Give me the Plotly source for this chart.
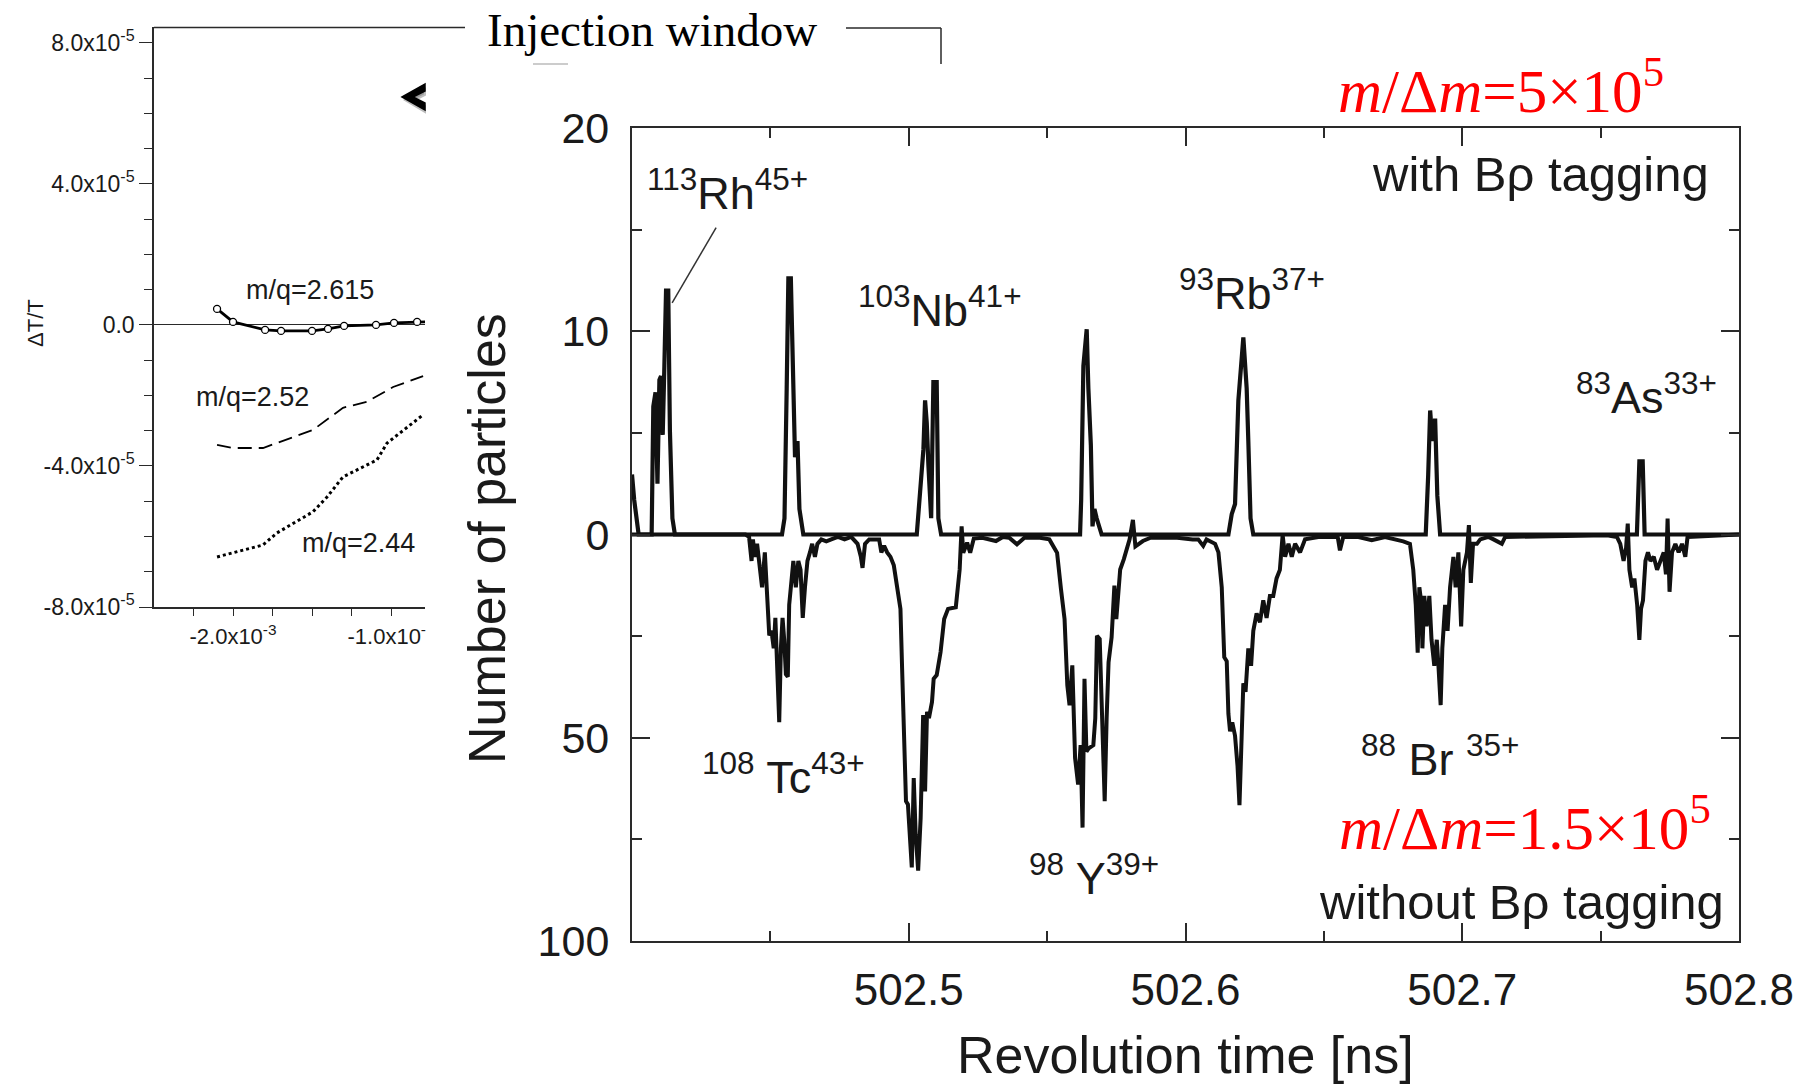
import plotly.graph_objects as go

W, H = 1818, 1084


def px(x):
    return x / W


def py(y):
    return 1 - y / H


# ---------------- left inset panel data (dT/T vs x) ----------------
mq2615_x = [-2.101e-3, -2.0e-3, -1.797e-3, -1.696e-3, -1.5e-3, -1.399e-3,
            -1.297e-3, -1.095e-3, -0.981e-3, -0.835e-3, -0.70e-3]
mq2615_y = [0.454e-5, 0.085e-5, -0.142e-5, -0.170e-5, -0.170e-5, -0.113e-5,
            -0.028e-5, 0.0, 0.057e-5, 0.085e-5, 0.10e-5]

mq252_x = [-2.101e-3, -2.0e-3, -1.81e-3, -1.62e-3, -1.494e-3, -1.304e-3,
           -1.152e-3, -0.987e-3, -0.797e-3]
mq252_y = [-3.40e-5, -3.49e-5, -3.49e-5, -3.18e-5, -2.98e-5, -2.35e-5,
           -2.18e-5, -1.76e-5, -1.45e-5]

mq244_x = [-2.101e-3, -1.81e-3, -1.722e-3, -1.494e-3, -1.405e-3, -1.304e-3,
           -1.089e-3, -1.025e-3, -0.797e-3]
mq244_y = [-6.58e-5, -6.24e-5, -5.90e-5, -5.30e-5, -4.88e-5, -4.31e-5,
           -3.83e-5, -3.35e-5, -2.55e-5]

inset_xticks = [-2.0e-3, -1.0e-3]
inset_xticklabels = ["-2.0x10<sup>-3</sup>", "-1.0x10<sup>-3</sup>"]
inset_yticks = [8e-5, 4e-5, 0.0, -4e-5, -8e-5]
inset_yticklabels = ["8.0x10<sup>-5</sup>", "4.0x10<sup>-5</sup>", "0.0",
                     "-4.0x10<sup>-5</sup>", "-8.0x10<sup>-5</sup>"]

# ---------------- main spectrum: with B-rho tagging (upwards) ----------------
t_with = [502.4000, 502.4008, 502.4024, 502.4071, 502.4077, 502.4085, 502.4092,
          502.4099, 502.4105, 502.4111, 502.4117, 502.4123, 502.4131, 502.4137,
          502.4146, 502.4155, 502.4542, 502.4551, 502.4559, 502.4565, 502.4574,
          502.4581, 502.4589, 502.4598, 502.4605, 502.4619, 502.5029, 502.5041,
          502.5053, 502.5059, 502.5065, 502.5071, 502.5081, 502.5089, 502.5101,
          502.5107, 502.5117, 502.5619, 502.5623, 502.5631, 502.5643, 502.5649,
          502.5658, 502.5664, 502.5671, 502.5679, 502.5697, 502.6155, 502.6167,
          502.6179, 502.6191, 502.6209, 502.6221, 502.6227, 502.6235, 502.6245,
          502.6868, 502.6877, 502.6884, 502.6892, 502.6902, 502.6910, 502.6920,
          502.7631, 502.7640, 502.7652, 502.7659, 502.8000]
n_with = [2.95, 1.7, 0, 0, 6.3, 7.0, 2.5,
          7.6, 7.8, 4.9, 8.3, 12.0, 12.0, 5.1,
          0.8, 0, 0, 0.8, 7.2, 12.6, 12.6,
          8.3, 3.8, 4.6, 1.25, 0, 0, 2.1,
          4.2, 6.6, 5.5, 3.4, 0.8, 7.5, 7.5,
          0.8, 0, 0, 1.7, 8.3, 10.1, 7.2,
          4.4, 0.4, 1.25, 0.8, 0, 0, 1.0,
          1.5, 6.6, 9.7, 7.2, 4.6, 0.8, 0,
          0, 2.95, 6.1, 4.6, 5.7, 1.9, 0,
          0, 3.6, 3.6, 0, 0]

# ---------------- main spectrum: without B-rho tagging (downwards) ----------------
t_without = [502.4000, 502.4410, 502.4423, 502.4432, 502.4437, 502.4444, 502.4452,
             502.4461, 502.4470, 502.4480, 502.4488, 502.4496, 502.4504, 502.4512,
             502.4518, 502.4524, 502.4532, 502.4538, 502.4544, 502.4550, 502.4556,
             502.4563, 502.4568, 502.4574, 502.4583, 502.4592, 502.4601, 502.4609,
             502.4617, 502.4625, 502.4634, 502.4643, 502.4651, 502.4661, 502.4670,
             502.4684, 502.4702, 502.4720, 502.4744, 502.4768, 502.4792, 502.4815,
             502.4827, 502.4833, 502.4842, 502.4857, 502.4875, 502.4893, 502.4901,
             502.4911, 502.4922, 502.4934, 502.4946, 502.4956, 502.4970, 502.4976,
             502.4983, 502.4990, 502.4997, 502.5004, 502.5011, 502.5018, 502.5025,
             502.5034, 502.5043, 502.5052, 502.5059, 502.5066, 502.5073, 502.5084,
             502.5090, 502.5101, 502.5115, 502.5128, 502.5142, 502.5170, 502.5184,
             502.5191, 502.5197, 502.5211, 502.5222, 502.5235, 502.5266, 502.5315,
             502.5340, 502.5363, 502.5391, 502.5418, 502.5474, 502.5508, 502.5536,
             502.5550, 502.5563, 502.5573, 502.5581, 502.5591, 502.5601, 502.5612,
             502.5621, 502.5628, 502.5635, 502.5642, 502.5650, 502.5667, 502.5674,
             502.5680, 502.5690, 502.5697, 502.5708, 502.5715, 502.5722, 502.5733,
             502.5743, 502.5750, 502.5764, 502.5777, 502.5798, 502.5810, 502.5819,
             502.5846, 502.5874, 502.5915, 502.5970, 502.6026, 502.6046, 502.6064,
             502.6076, 502.6107, 502.6119, 502.6131, 502.6140, 502.6149, 502.6155,
             502.6161, 502.6169, 502.6179, 502.6188, 502.6195, 502.6201, 502.6209,
             502.6217, 502.6227, 502.6237, 502.6245, 502.6257, 502.6269, 502.6281,
             502.6293, 502.6305, 502.6317, 502.6329, 502.6341, 502.6351, 502.6360,
             502.6372, 502.6384, 502.6396, 502.6414, 502.6432, 502.6480, 502.6550,
             502.6558, 502.6570, 502.6625, 502.6673, 502.6721, 502.6787, 502.6811,
             502.6823, 502.6832, 502.6839, 502.6845, 502.6853, 502.6856, 502.6863,
             502.6871, 502.6881, 502.6889, 502.6899, 502.6908, 502.6914, 502.6922,
             502.6928, 502.6938, 502.6947, 502.6956, 502.6968, 502.6976, 502.6986,
             502.6996, 502.7004, 502.7017, 502.7024, 502.7031, 502.7039, 502.7053,
             502.7065, 502.7095, 502.7113, 502.7143, 502.7155, 502.7390, 502.7523,
             502.7559, 502.7571, 502.7583, 502.7592, 502.7598, 502.7604, 502.7614,
             502.7622, 502.7632, 502.7640, 502.7646, 502.7653, 502.7662, 502.7671,
             502.7680, 502.7692, 502.7704, 502.7716, 502.7728, 502.7736, 502.7742,
             502.7749, 502.7758, 502.7770, 502.7782, 502.7794, 502.7806, 502.7814,
             502.8000]
n_without = [0, 0, 0.6, 6.5, 1.2, 5.5, 2.3,
             8.7, 13.0, 4.4, 17.3, 24.8, 23.7, 28.0,
             20.5, 33.4, 46.2, 28.0, 20.5, 25.9, 34.4,
             35.0, 17.3, 13.0, 6.5, 13.0, 6.5, 8.7,
             20.5, 13.0, 6.5, 4.4, 2.3, 5.5, 2.3,
             1.2, 1.7, 1.2, 0.6, 1.2, 0.6, 2.3,
             5.5, 8.2, 2.3, 1.2, 1.2, 1.2, 4.4,
             2.8, 4.4, 5.5, 7.6, 12.6, 18.3, 33.0,
             53.4, 65.6, 66.4, 73.8, 81.9, 59.9, 73.8,
             82.7, 69.7, 44.4, 63.2, 43.6, 45.2, 41.2,
             35.5, 34.6, 28.9, 20.8, 18.3, 17.9, 8.6,
             -2.0, 4.5, 2.0, 4.5, 1.0, 0.8, 1.6,
             0.6, 0.8, 2.4, 0.8, 0.8, 1.2, 4.5,
             13.4, 20.8, 37.1, 42.0, 32.2, 55.0, 61.5,
             51.8, 72.1, 35.5, 53.4, 52.6, 51.8, 45.2,
             24.9, 25.7, 41.2, 65.6, 45.2, 31.4, 25.3,
             12.6, 20.8, 8.6, 6.1, 1.2, -3.6, 2.9,
             1.6, 0.8, 0.8, 0.8, 1.2, 1.2, 2.8,
             1.2, 2.3, 4.4, 13.0, 30.2, 31.2, 44.1,
             48.4, 46.2, 49.5, 57.0, 66.6, 49.5, 36.6,
             38.7, 28.0, 32.3, 23.7, 19.4, 21.6, 16.2,
             20.5, 15.1, 15.1, 10.8, 8.7, 0.1, 5.5,
             2.3, 5.5, 2.3, 4.4, 1.2, 0.6, 0.6,
             3.9, 0.6, 0.6, 1.4, 0.6, 1.7, 2.3,
             8.7, 17.3, 29.1, 13.0, 17.3, 28.0, 15.1,
             22.6, 15.1, 25.9, 32.3, 25.9, 32.3, 42.0,
             28.0, 17.3, 23.7, 13.0, 5.5, 13.0, 4.4,
             22.6, 8.7, 4.4, -2.3, 11.9, 2.3, 2.3,
             1.2, 0.6, 1.2, 2.3, 0.6, 0.2, 0.2,
             0.6, 2.3, 6.5, 3.3, -2.7, 8.7, 13.0,
             10.8, 17.3, 25.9, 18.3, 16.2, 6.5, 4.4,
             6.5, 5.5, 8.7, 6.5, 4.4, 9.8, -3.9,
             14.1, 4.4, 2.3, 4.4, 2.3, 5.5, 0.6,
             0]

main_xticks = [502.5, 502.6, 502.7, 502.8]
main_xticklabels = ["502.5", "502.6", "502.7", "502.8"]
main_xminor = [502.45, 502.55, 502.65, 502.75]
upper_yticks = [0, 10, 20]
upper_yminor = [5, 15]
lower_yticks = [50, 100]
lower_yminor = [25, 75]

# peak labels (text, centre x px, centre y px)
peak_labels = [
    ("<sup>113</sup>Rh<sup>45+</sup>", 727, 190),
    ("<sup>103</sup>Nb<sup>41+</sup>", 940, 307),
    ("<sup>93</sup>Rb<sup>37+</sup>", 1252, 290),
    ("<sup>83</sup>As<sup>33+</sup>", 1646, 394),
    ("<sup>108</sup> Tc<sup>43+</sup>", 783, 774),
    ("<sup>98</sup> Y<sup>39+</sup>", 1094, 875),
    ("<sup>88</sup> Br <sup>35+</sup>", 1440, 756),
]

SANS = "Liberation Sans, Arial, sans-serif"
SERIF = "Liberation Serif, Times New Roman, serif"
INK = "#1a1a1a"
AX = "#2a2a2a"

fig = go.Figure()

# inset traces
fig.add_trace(go.Scatter(x=mq2615_x, y=mq2615_y, mode="lines+markers",
                         line=dict(color="black", width=2.8),
                         marker=dict(symbol="circle", size=7, color="white",
                                     line=dict(color="black", width=1.3)),
                         xaxis="x", yaxis="y", showlegend=False, hoverinfo="skip"))
fig.add_trace(go.Scatter(x=mq252_x, y=mq252_y, mode="lines",
                         line=dict(color="black", width=1.8, dash="14px,7px"),
                         xaxis="x", yaxis="y", showlegend=False, hoverinfo="skip"))
fig.add_trace(go.Scatter(x=mq244_x, y=mq244_y, mode="lines",
                         line=dict(color="black", width=3, dash="dot"),
                         xaxis="x", yaxis="y", showlegend=False, hoverinfo="skip"))

# main traces
fig.add_trace(go.Scatter(x=t_with, y=n_with, mode="lines",
                         line=dict(color="#111", width=4.2),
                         xaxis="x2", yaxis="y2", showlegend=False, hoverinfo="skip"))
fig.add_trace(go.Scatter(x=t_without, y=n_without, mode="lines",
                         line=dict(color="#111", width=4),
                         xaxis="x2", yaxis="y3", showlegend=False, hoverinfo="skip"))

fig.update_layout(
    template="none",
    width=W, height=H, autosize=False,
    margin=dict(l=0, r=0, t=0, b=0, pad=0, autoexpand=False),
    paper_bgcolor="white", plot_bgcolor="rgba(0,0,0,0)",
    font=dict(family=SANS, color=INK),
    showlegend=False,
    xaxis=dict(domain=[px(154), px(425)], range=[-2.5e-3, -0.785e-3], anchor="y",
               automargin=False,
               tickmode="array", tickvals=inset_xticks, ticktext=inset_xticklabels,
               ticks="outside", ticklen=7, tickwidth=1.3, tickcolor=AX,
               minor=dict(tickmode="array", tickvals=[-2.25e-3, -1.75e-3, -1.5e-3, -1.25e-3],
                          ticks="outside", ticklen=7, tickwidth=1.3, tickcolor=AX),
               showline=True, linecolor=AX, linewidth=1.5, showgrid=False, zeroline=False,
               tickfont=dict(size=22, color=INK), ticklabelstandoff=2),
    yaxis=dict(domain=[py(607), py(27)], range=[-8e-5, 8.45e-5], anchor="x",
               automargin=False,
               tickmode="array", tickvals=inset_yticks, ticktext=inset_yticklabels,
               ticks="outside", ticklen=13, tickwidth=1.3, tickcolor=AX,
               minor=dict(tickmode="array",
                          tickvals=[7e-5, 6e-5, 5e-5, 3e-5, 2e-5, 1e-5,
                                    -1e-5, -2e-5, -3e-5, -5e-5, -6e-5, -7e-5],
                          ticks="outside", ticklen=8, tickwidth=1.3, tickcolor=AX),
               showline=True, linecolor=AX, linewidth=1.5, showgrid=False,
               zeroline=True, zerolinecolor=AX, zerolinewidth=1.3,
               tickfont=dict(size=23, color=INK), ticklabelstandoff=0),
    xaxis2=dict(domain=[px(632), px(1739)], range=[502.4, 502.8], anchor="y2",
                automargin=False,
                tickmode="array", tickvals=main_xticks, ticktext=main_xticklabels,
                ticks="inside", ticklen=18, tickwidth=2, tickcolor=AX,
                minor=dict(tickmode="array", tickvals=main_xminor,
                           ticks="inside", ticklen=10, tickwidth=2, tickcolor=AX),
                showline=True, mirror="ticks", linecolor=AX, linewidth=2.2,
                showgrid=False, zeroline=False,
                tickfont=dict(size=44, color=INK), ticklabelstandoff=9),
    yaxis2=dict(domain=[py(941), py(128)], range=[-20, 20], anchor="x2",
                automargin=False,
                tickmode="array", tickvals=upper_yticks,
                ticks="inside", ticklen=18, tickwidth=2, tickcolor=AX,
                minor=dict(tickmode="array", tickvals=upper_yminor,
                           ticks="inside", ticklen=10, tickwidth=2, tickcolor=AX),
                showline=True, mirror="ticks", linecolor=AX, linewidth=2.2,
                showgrid=False, zeroline=False,
                tickfont=dict(size=43, color=INK), ticklabelstandoff=12),
    yaxis3=dict(overlaying="y2", range=[100, -100], anchor="x2", side="left",
                automargin=False,
                tickmode="array", tickvals=lower_yticks,
                ticks="inside", ticklen=18, tickwidth=2, tickcolor=AX,
                minor=dict(tickmode="array", tickvals=lower_yminor,
                           ticks="inside", ticklen=10, tickwidth=2, tickcolor=AX),
                showline=True, mirror="ticks", linecolor=AX, linewidth=2.2,
                showgrid=False, zeroline=False,
                tickfont=dict(size=43, color=INK), ticklabelstandoff=12),
)

ann = []


def add_text(text, x, y, size, family=SANS, color=INK, angle=0):
    ann.append(dict(text=text, x=px(x), y=py(y), xref="paper", yref="paper",
                    xanchor="center", yanchor="middle", showarrow=False,
                    textangle=angle, font=dict(size=size, family=family, color=color)))


# inset texts
add_text("ΔT/T", 35, 323, 22, angle=-90)
add_text("m/q=2.615", 310, 290, 27)
add_text("m/q=2.52", 252, 397, 27)
add_text("m/q=2.44", 358, 543, 27)
add_text("Injection window", 652, 30, 47, family=SERIF, color="black")

# main texts
for txt, x, y in peak_labels:
    add_text(txt, x, y, 45)
add_text("with Bρ tagging", 1540, 174, 49)
add_text("without Bρ tagging", 1521, 902, 49)
add_text("<i>m</i>/Δ<i>m</i>=5×10<sup>5</sup>", 1501, 87, 61, family=SERIF, color="#ff0000")
add_text("<i>m</i>/Δ<i>m</i>=1.5×10<sup>5</sup>", 1525, 823, 61, family=SERIF, color="#ff0000")
add_text("Number of particles", 487, 539, 52, angle=-90)
add_text("Revolution time [ns]", 1185, 1055, 52)
fig.update_layout(annotations=ann)

shapes = []


def pline(x0, y0, x1, y1, color=AX, width=1.5):
    shapes.append(dict(type="line", xref="paper", yref="paper",
                       x0=px(x0), y0=py(y0), x1=px(x1), y1=py(y1),
                       line=dict(color=color, width=width), layer="above"))


# inset top frame continuing into the injection-window bracket
pline(154, 27.5, 465, 27.5)
pline(846, 28, 941, 28)
pline(941, 28, 941, 64)
pline(533, 64, 568, 64, color="#bbbbbb", width=1.5)

# arrow head in the inset (with soft shadow)
shadow = [(405, 100), (425, 89), (425, 95), (415, 100), (425, 106), (425, 112)]
path_s = "M " + " L ".join(f"{px(a):.5f},{py(b):.5f}" for a, b in shadow) + " Z"
shapes.append(dict(type="path", xref="paper", yref="paper", path=path_s,
                   fillcolor="#9a9a9a", line=dict(color="#bdbdbd", width=2), layer="above"))
pts = [(402, 97), (425, 84), (425, 91), (413, 97), (425, 103), (425, 110)]
path = "M " + " L ".join(f"{px(a):.5f},{py(b):.5f}" for a, b in pts) + " Z"
shapes.append(dict(type="path", xref="paper", yref="paper", path=path,
                   fillcolor="black", line=dict(color="black", width=1.5), layer="above"))

# white mask cutting the inset at its right edge (cropped figure)
shapes.append(dict(type="rect", xref="paper", yref="paper",
                   x0=px(426), x1=px(468), y0=py(670), y1=py(612),
                   fillcolor="white", line=dict(width=0), layer="above"))

# pointer line from Rh label to its peak
shapes.append(dict(type="line", xref="x2", yref="y2",
                   x0=502.4304, y0=15.1, x1=502.4145, y1=11.4,
                   line=dict(color="#333", width=1.5), layer="above"))

fig.update_layout(shapes=shapes)

fig.write_html("out.html")
